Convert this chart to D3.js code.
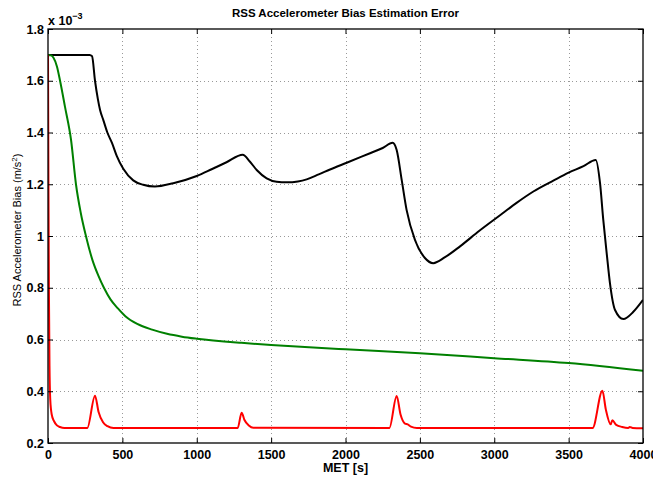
<!DOCTYPE html>
<html>
<head>
<meta charset="utf-8">
<script src="https://cdn.jsdelivr.net/npm/d3@7"></script>
<style>
  html, body { margin: 0; padding: 0; background: #fff; }
  svg { display: block; }
  text { font-family: "Liberation Sans", Arial, Helvetica, sans-serif; }
</style>
</head>
<body>
<svg id="chart" width="653" height="477"></svg>
<script>
// ---- data (values in units of 1e-3 m/s^2) ----
const title = "RSS Accelerometer Bias Estimation Error";
const xLabel = "MET [s]";
const yLabel = "RSS Accelerometer Bias (m/s";
const xTicks = [0, 500, 1000, 1500, 2000, 2500, 3000, 3500, 4000];
const yTicks = [0.2, 0.4, 0.6, 0.8, 1.0, 1.2, 1.4, 1.6, 1.8];
const yTickLabels = ["0.2", "0.4", "0.6", "0.8", "1", "1.2", "1.4", "1.6", "1.8"];

const blackT = [0, 280, 296, 316, 335, 350, 372, 399, 430, 462, 506, 573, 640, 719, 842, 1000, 1100, 1200, 1309, 1358, 1403, 1470, 1537, 1605, 1680, 1739, 1820, 1896, 2008, 2165, 2250, 2317, 2344, 2378, 2411, 2467, 2534, 2590, 2669, 2770, 2900, 3039, 3150, 3263, 3400, 3500, 3600, 3682, 3711, 3733, 3756, 3778, 3812, 3868, 3935, 4000];
const blackV = [1.7, 1.7, 1.695, 1.6, 1.53, 1.487, 1.448, 1.4, 1.36, 1.31, 1.26, 1.215, 1.198, 1.191, 1.204, 1.232, 1.258, 1.285, 1.314, 1.287, 1.255, 1.223, 1.21, 1.2075, 1.211, 1.219, 1.238, 1.257, 1.283, 1.32, 1.34, 1.36, 1.332, 1.216, 1.1, 0.985, 0.915, 0.895, 0.918, 0.96, 1.02, 1.08, 1.128, 1.172, 1.215, 1.245, 1.27, 1.294, 1.205, 1.062, 0.933, 0.817, 0.714, 0.679, 0.707, 0.753];

const greenT = [0, 20, 36, 60, 81, 114, 155, 188, 220, 255, 300, 340, 376, 420, 470, 520, 600, 700, 800, 900, 1000, 1300, 1500, 2000, 2500, 3000, 3500, 4000];
const greenV = [1.7, 1.698, 1.69, 1.655, 1.6, 1.5, 1.371, 1.2, 1.09, 1.0, 0.905, 0.845, 0.8, 0.755, 0.72, 0.69, 0.66, 0.638, 0.622, 0.611, 0.603, 0.587, 0.579, 0.562, 0.547, 0.528, 0.509, 0.479];

const redT = [0, 3, 6, 10, 15, 25, 40, 60, 80, 110, 264, 316, 340, 370, 400, 440, 1275, 1302, 1320, 1350, 1380, 2295, 2344, 2370, 2400, 2418, 2440, 2480, 3661, 3727, 3750, 3783, 3794, 3820, 3860, 3900, 3911, 3930, 4000];
const redV = [1.7, 1.2, 0.8, 0.5, 0.37, 0.31, 0.285, 0.268, 0.262, 0.258, 0.258, 0.383, 0.32, 0.28, 0.265, 0.258, 0.258, 0.317, 0.29, 0.268, 0.259, 0.258, 0.382, 0.31, 0.275, 0.272, 0.263, 0.258, 0.258, 0.402, 0.33, 0.272, 0.288, 0.27, 0.262, 0.258, 0.262, 0.258, 0.257];

const series = [
  { t: blackT, v: blackV, color: "#000000" },
  { t: greenT, v: greenV, color: "#008000" },
  { t: redT, v: redV, color: "#ff0000" }
];

// ---- layout ----
const svg = d3.select("#chart");
const L = 48, R = 643, T = 29, B = 443;
const x = d3.scaleLinear().domain([0, 4000]).range([L, R]);
const y = d3.scaleLinear().domain([0.2, 1.8]).range([B, T]);

// grid
const grid = svg.append("g");
grid.selectAll("line.gx").data(xTicks.slice(1, -1)).enter().append("line")
  .attr("x1", d => Math.round(x(d)) + 0.5).attr("x2", d => Math.round(x(d)) + 0.5)
  .attr("y1", T).attr("y2", B)
  .attr("stroke", "#999").attr("stroke-width", 1).attr("stroke-dasharray", "1,3");
grid.selectAll("line.gy").data(yTicks.slice(1, -1)).enter().append("line")
  .attr("y1", d => Math.round(y(d)) + 0.5).attr("y2", d => Math.round(y(d)) + 0.5)
  .attr("x1", L).attr("x2", R)
  .attr("stroke", "#999").attr("stroke-width", 1).attr("stroke-dasharray", "1,3");

// lines
svg.append("clipPath").attr("id", "clip").append("rect")
  .attr("x", L).attr("y", T).attr("width", R - L).attr("height", B - T);
const line = d3.line().curve(d3.curveMonotoneX);
series.forEach(s => {
  svg.append("path")
    .attr("d", line(s.t.map((t, i) => [x(t), y(s.v[i])])))
    .attr("fill", "none").attr("stroke", s.color).attr("stroke-width", 2)
    .attr("stroke-linejoin", "round")
    .attr("clip-path", "url(#clip)");
});

// axes (box with inward ticks)
const axB = d3.axisBottom(x).tickValues(xTicks).tickSize(-5).tickPadding(7).tickFormat(d3.format("d"));
const axT = d3.axisTop(x).tickValues(xTicks).tickSize(-5).tickFormat("");
const axL = d3.axisLeft(y).tickValues(yTicks).tickSize(-5).tickPadding(4).tickFormat((d, i) => yTickLabels[i]);
const axR = d3.axisRight(y).tickValues(yTicks).tickSize(-5).tickFormat("");

function style(g) {
  g.selectAll(".tick line").attr("stroke", "#000").attr("stroke-width", 1);
  g.selectAll(".tick text").attr("fill", "#000")
    .style("font-family", "'Liberation Sans', Arial, sans-serif")
    .style("font-weight", "bold").style("font-size", "12.5px");
}
svg.append("g").attr("transform", `translate(0,${B})`).call(axB).call(style);
svg.append("g").attr("transform", `translate(0,${T})`).call(axT).call(style);
svg.append("g").attr("transform", `translate(${L},0)`).call(axL).call(style);
svg.append("g").attr("transform", `translate(${R},0)`).call(axR).call(style);
svg.selectAll(".domain").remove();
svg.append("rect").attr("x", L).attr("y", T).attr("width", R - L).attr("height", B - T)
  .attr("fill", "none").attr("stroke", "#000").attr("stroke-width", 1.3);

// exponent label
const ex = svg.append("text").attr("x", L).attr("y", 25)
  .style("font-weight", "bold").style("font-size", "12.5px");
ex.append("tspan").text("x 10");
ex.append("tspan").attr("dy", -6).style("font-size", "9px").text("\u22123");

// title
svg.append("text").attr("x", (L + R) / 2).attr("y", 17).attr("text-anchor", "middle")
  .style("font-weight", "bold").style("font-size", "11.5px").text(title);

// x label
svg.append("text").attr("x", (L + R) / 2).attr("y", 472).attr("text-anchor", "middle")
  .style("font-weight", "bold").style("font-size", "12.5px").text(xLabel);

// y label
const yl = svg.append("text").attr("transform", `translate(21,${(T + B) / 2 - 6}) rotate(-90)`)
  .attr("text-anchor", "middle").style("font-size", "11px");
yl.append("tspan").text(yLabel);
yl.append("tspan").attr("dy", -4).style("font-size", "8px").text("2");
yl.append("tspan").attr("dy", 4).text(")");
</script>
</body>
</html>
